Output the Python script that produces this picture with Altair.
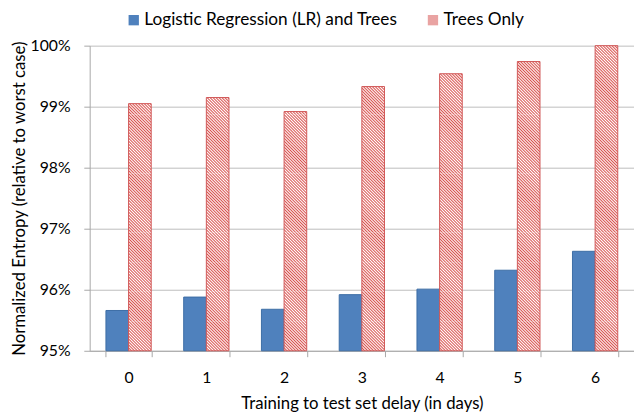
import math
import altair as alt
import pandas as pd

# ---- data ----
delays = [0, 1, 2, 3, 4, 5, 6]
series = ["Logistic Regression (LR) and Trees", "Trees Only"]
lr_values = [0.9566, 0.9588, 0.9568, 0.9592, 0.9601, 0.9632, 0.9663]
trees_values = [0.9905, 0.9915, 0.9892, 0.9933, 0.9954, 0.9974, 1.0000]
y_ticks = [0.95, 0.96, 0.97, 0.98, 0.99, 1.00]

# ---- layout / style ----
W, H = 553, 310
Y_MIN, Y_MAX = 0.95, 1.00
P_INNER = 0.4177
BLUE = "#4f81bd"
BLUE_EDGE = "#3c6da5"
RED = "#d9534f"
RED_EDGE = "#d05858"
FONT = "Lato"
STRIPE = 3.0   # horizontal stripe period in px
SEG_PX = 30.0  # hatch drawn in stacked pieces of this pixel height

rows = []
for d, a, b in zip(delays, lr_values, trees_values):
    rows.append({"delay": d, "series": series[0], "value": a})
    rows.append({"delay": d, "series": series[1], "value": b})
df = pd.DataFrame(rows)

x_enc = alt.X("delay:O", title="Training to test set delay (in days)",
              scale=alt.Scale(domain=delays, paddingInner=P_INNER, paddingOuter=P_INNER / 2),
              axis=alt.Axis(labelAngle=0, tickBand="extent", tickSize=6, labelPadding=13,
                            titlePadding=11, domainColor="#a6a6a6", tickColor="#a6a6a6",
                            grid=False))
xo_enc = alt.XOffset("series:N", scale=alt.Scale(domain=series, paddingInner=0, paddingOuter=0))
y_scale = alt.Scale(domain=[Y_MIN, Y_MAX], zero=False, nice=False)
y_enc = alt.Y("value:Q", title="Normalized Entropy (relative to worst case)",
              scale=y_scale,
              axis=alt.Axis(values=y_ticks, format=".0%", tickSize=6, labelPadding=14,
                            titlePadding=2, grid=True, gridColor="#bdbdbd",
                            domainColor="#a6a6a6", tickColor="#a6a6a6"))

step = W / len(delays)
bar_w = step * (1 - P_INNER) / 2
px_per_unit = H / (Y_MAX - Y_MIN)


def hatch(w, h):
    n = int(math.ceil((w + h) / STRIPE))
    L = n * STRIPE
    k = L / (w * w + h * h)
    stops = []
    for j in range(n):
        stops += [alt.GradientStop(offset=j / n, color=RED),
                  alt.GradientStop(offset=(j + 0.5) / n, color="#ffffff")]
    stops.append(alt.GradientStop(offset=1, color=RED))
    return alt.LinearGradient(gradient="linear", stops=stops,
                              x1=0, y1=1, x2=k * w, y2=1 - k * h)


base = alt.Chart(df)

lr_layer = base.transform_filter(alt.datum.series == series[0]).mark_bar(
    stroke=BLUE_EDGE, strokeWidth=1
).encode(
    x=x_enc, xOffset=xo_enc, y=y_enc, y2=alt.Y2(datum=Y_MIN),
    color=alt.Color("series:N", scale=alt.Scale(domain=series, range=[BLUE, "#e9a3a2"]),
                    legend=alt.Legend(title=None, orient="none", direction="horizontal",
                                      legendX=36, legendY=-35, symbolType="square",
                                      symbolSize=110, symbolStrokeWidth=0, labelLimit=500,
                                      labelFontSize=17.5, labelFont=FONT, labelColor="#000",
                                      columnPadding=27, labelOffset=2)),
)

# hatch pieces: full-height pieces share one gradient, each top piece has its own
seg_units = SEG_PX / px_per_unit
full_rows, top_layers = [], []
for d, v in zip(delays, trees_values):
    h_total = (v - Y_MIN) * px_per_unit
    nfull = int(math.floor(h_total / SEG_PX + 1e-9))
    for i in range(nfull):
        full_rows.append({"delay": d, "series": series[1],
                          "lo": Y_MIN + i * seg_units, "hi": Y_MIN + (i + 1) * seg_units})
    rem = h_total - nfull * SEG_PX
    if rem > 0.05:
        lo = Y_MIN + nfull * seg_units
        top_layers.append(
            alt.Chart(pd.DataFrame([{"delay": d, "series": series[1], "lo": lo, "hi": v}]))
            .mark_bar(fill=hatch(bar_w, rem), strokeWidth=0)
            .encode(x=alt.X("delay:O"), xOffset=alt.XOffset("series:N"),
                    y=alt.Y("hi:Q"), y2=alt.Y2("lo:Q"))
        )

full_layer = alt.Chart(pd.DataFrame(full_rows)).mark_bar(
    fill=hatch(bar_w, SEG_PX), strokeWidth=0
).encode(x=alt.X("delay:O"), xOffset=alt.XOffset("series:N"),
         y=alt.Y("hi:Q"), y2=alt.Y2("lo:Q"))

outline_layer = base.transform_filter(alt.datum.series == series[1]).mark_bar(
    fillOpacity=0, stroke=RED_EDGE, strokeWidth=1
).encode(x=x_enc, xOffset=xo_enc, y=y_enc, y2=alt.Y2(datum=Y_MIN))

chart = alt.layer(lr_layer, full_layer, *top_layers, outline_layer).properties(
    width=W, height=H, padding={"left": 2, "top": 0, "right": 0, "bottom": 0}
).configure_view(stroke=None).configure_axis(
    labelFont=FONT, titleFont=FONT, labelFontSize=16, titleFontSize=17,
    labelColor="#000", titleColor="#000", titleFontWeight="normal"
)

chart.save("out.html", embed_options={"renderer": "svg", "actions": False})
